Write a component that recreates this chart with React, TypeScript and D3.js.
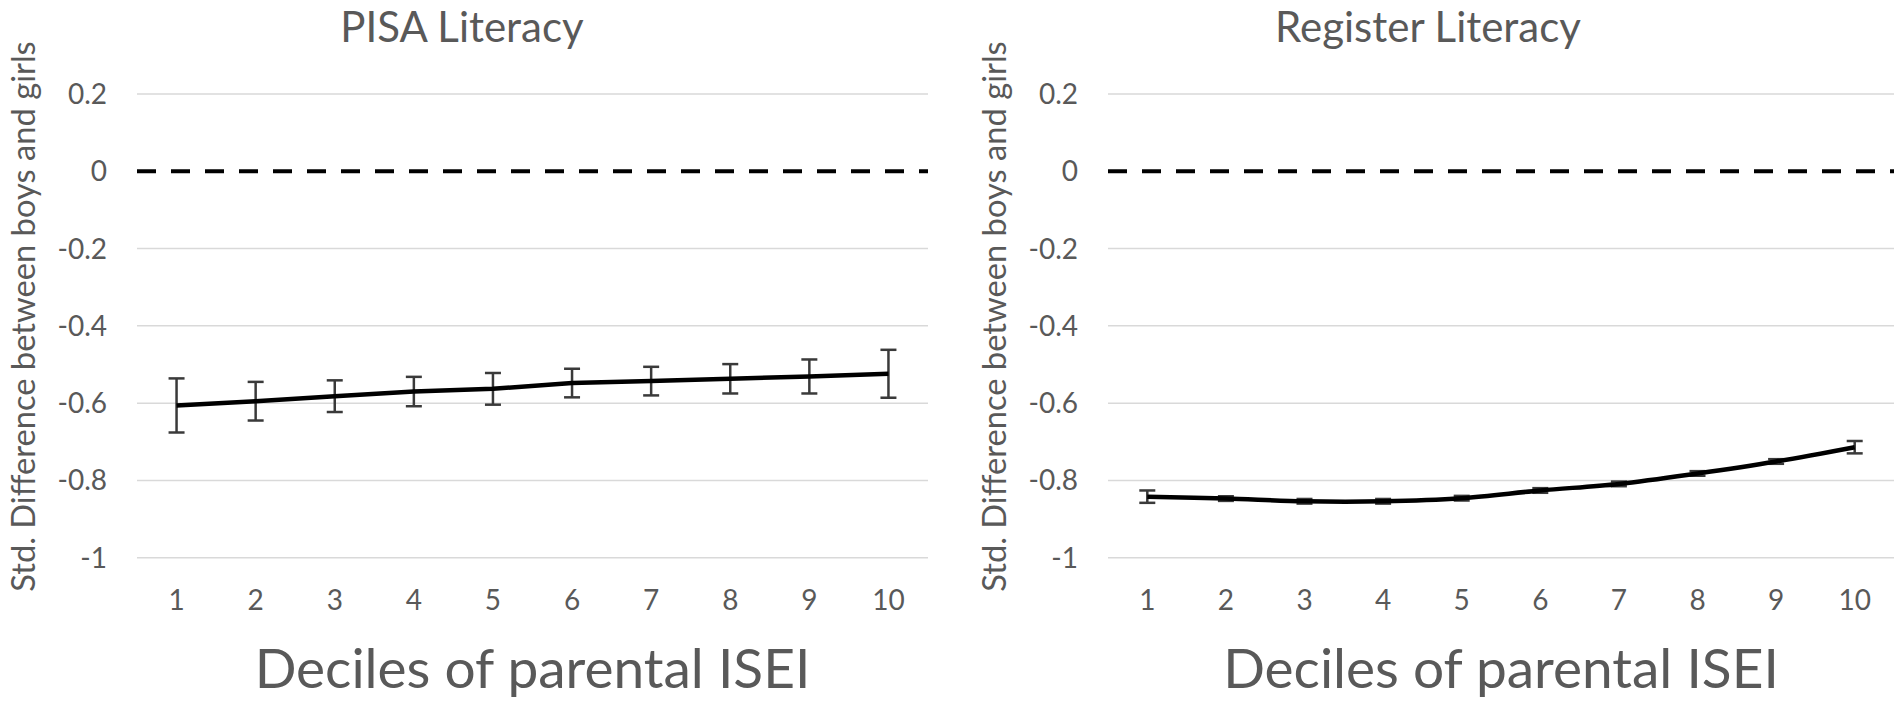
import { useEffect, useRef } from 'react';
import * as d3 from 'd3';

const deciles = ['1', '2', '3', '4', '5', '6', '7', '8', '9', '10'];
const yTicks = [0.2, 0, -0.2, -0.4, -0.6, -0.8, -1];

const pisaMeans = [-0.606, -0.595, -0.582, -0.57, -0.563, -0.548, -0.543, -0.537, -0.531, -0.524];
const pisaErrors = [0.07, 0.05, 0.041, 0.038, 0.041, 0.037, 0.037, 0.038, 0.044, 0.062];

const registerMeans = [-0.842, -0.847, -0.854, -0.854, -0.846, -0.826, -0.809, -0.782, -0.751, -0.714];
const registerErrors = [0.016, 0.006, 0.006, 0.006, 0.006, 0.006, 0.006, 0.006, 0.006, 0.016];

const yTitle = 'Std. Difference between boys and girls';
const xTitle = 'Deciles of parental ISEI';

interface PanelSpec {
  title: string;
  means: number[];
  errors: number[];
  left: number;
  right: number;
  titleX: number;
  smooth: boolean;
}

export default function App() {
  const svgRef = useRef<SVGSVGElement>(null);

  useEffect(() => {
    if (!svgRef.current) return;

    const svg = d3.select(svgRef.current);
    svg.selectAll('*').remove();

    const width = 1902;
    const height = 703;
    const font = 'Lato, "Open Sans", sans-serif';
    const grey = '#595959';

    svg.attr('width', width).attr('height', height);

    const y = d3.scaleLinear().domain([-1, 0.2]).range([557.7, 94]);

    const panels: PanelSpec[] = [
      { title: 'PISA Literacy', means: pisaMeans, errors: pisaErrors, left: 137, right: 928, titleX: 462, smooth: false },
      { title: 'Register Literacy', means: registerMeans, errors: registerErrors, left: 1108, right: 1894, titleX: 1428, smooth: true },
    ];

    panels.forEach((p) => {
      const x = d3.scaleBand().domain(deciles).range([p.left, p.right]);
      const cx = (d: string) => (x(d) ?? 0) + x.bandwidth() / 2;
      const g = svg.append('g');

      // Gridlines (zero is drawn dashed later)
      g.selectAll('line.grid')
        .data(yTicks.filter((t) => t !== 0))
        .enter()
        .append('line')
        .attr('x1', p.left)
        .attr('x2', p.right)
        .attr('y1', (d) => y(d))
        .attr('y2', (d) => y(d))
        .attr('stroke', '#d9d9d9')
        .attr('stroke-width', 1.5);

      // Zero line
      g.append('line')
        .attr('x1', p.left)
        .attr('x2', p.right)
        .attr('y1', y(0))
        .attr('y2', y(0))
        .attr('stroke', '#000')
        .attr('stroke-width', 4)
        .attr('stroke-dasharray', '19 15');

      // Y tick labels
      g.selectAll('text.ytick')
        .data(yTicks)
        .enter()
        .append('text')
        .attr('x', p.left - 30)
        .attr('y', (d) => y(d))
        .attr('dy', '0.36em')
        .attr('text-anchor', 'end')
        .attr('font-family', font)
        .attr('font-size', 28)
        .attr('fill', grey)
        .text((d) => `${d}`);

      // X tick labels
      g.selectAll('text.xtick')
        .data(deciles)
        .enter()
        .append('text')
        .attr('x', (d) => cx(d))
        .attr('y', 610)
        .attr('text-anchor', 'middle')
        .attr('font-family', font)
        .attr('font-size', 28)
        .attr('fill', grey)
        .text((d) => d);

      // Error bars
      const cap = 8;
      const bars = g.selectAll('g.err')
        .data(deciles)
        .enter()
        .append('g')
        .attr('stroke', '#3a3a3a')
        .attr('stroke-width', 2.5);
      bars.append('line')
        .attr('x1', (d) => cx(d))
        .attr('x2', (d) => cx(d))
        .attr('y1', (_, i) => y(p.means[i] + p.errors[i]))
        .attr('y2', (_, i) => y(p.means[i] - p.errors[i]));
      bars.append('line')
        .attr('x1', (d) => cx(d) - cap)
        .attr('x2', (d) => cx(d) + cap)
        .attr('y1', (_, i) => y(p.means[i] + p.errors[i]))
        .attr('y2', (_, i) => y(p.means[i] + p.errors[i]));
      bars.append('line')
        .attr('x1', (d) => cx(d) - cap)
        .attr('x2', (d) => cx(d) + cap)
        .attr('y1', (_, i) => y(p.means[i] - p.errors[i]))
        .attr('y2', (_, i) => y(p.means[i] - p.errors[i]));

      // Main line
      const line = d3
        .line<number>()
        .x((_, i) => cx(deciles[i]))
        .y((d) => y(d))
        .curve(p.smooth ? d3.curveCatmullRom.alpha(0.5) : d3.curveLinear);
      g.append('path')
        .attr('d', line(p.means))
        .attr('fill', 'none')
        .attr('stroke', '#000')
        .attr('stroke-width', 4.5)
        .attr('stroke-linejoin', 'round');

      // Titles
      g.append('text')
        .attr('x', p.titleX)
        .attr('y', 42)
        .attr('text-anchor', 'middle')
        .attr('font-family', font)
        .attr('font-size', 42)
        .attr('fill', grey)
        .text(p.title);

      g.append('text')
        .attr('x', (p.left + p.right) / 2)
        .attr('y', 688)
        .attr('text-anchor', 'middle')
        .attr('font-family', font)
        .attr('font-size', 55)
        .attr('fill', grey)
        .text(xTitle);

      g.append('text')
        .attr('transform', `translate(${p.left - 102},316.5) rotate(-90)`)
        .attr('text-anchor', 'middle')
        .attr('font-family', font)
        .attr('font-size', 32.7)
        .attr('fill', grey)
        .text(yTitle);
    });
  }, []);

  return (
    <svg
      ref={svgRef}
      style={{ position: 'absolute', left: 0, top: 0, background: '#fff' }}
    />
  );
}
